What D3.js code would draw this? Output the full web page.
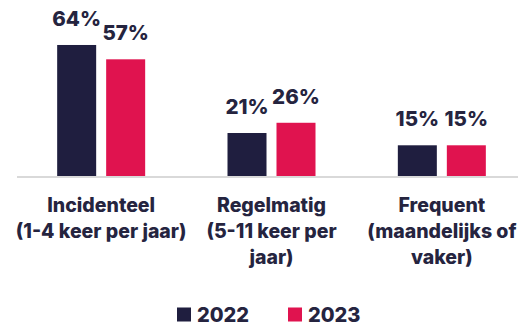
<!DOCTYPE html>
<html>
<head>
<meta charset="utf-8">
<script src="https://cdn.jsdelivr.net/npm/d3@7"></script>
<style>
  html, body { margin: 0; padding: 0; background: #ffffff; }
  svg { display: block; }
  text { font-family: Inter, "Noto Sans", sans-serif; font-weight: 800; }
</style>
</head>
<body>
<script>
// Frequency categories (label lines) and yearly shares in percent
const categories = ["Incidenteel", "Regelmatig", "Frequent"];
const categoryLines = [
  ["Incidenteel", "(1-4 keer per jaar)"],
  ["Regelmatig", "(5-11 keer per", "jaar)"],
  ["Frequent", "(maandelijks of", "vaker)"]
];
const seriesNames = ["2022", "2023"];
const values2022 = [64, 21, 15];
const values2023 = [57, 26, 15];
const seriesColors = ["#1f1e3f", "#e0134f"];

const W = 518, H = 324;
const textColor = "#25243f";

const svg = d3.select("body").append("svg")
  .attr("width", W).attr("height", H);

const baseY = 176;
const x0 = d3.scaleBand().domain(categories).range([16, 527]).padding(0);
const x1 = d3.scaleBand().domain(seriesNames).range([-44, 44]).paddingInner(0.204).paddingOuter(0);
const y = d3.scaleLinear().domain([0, 70]).range([baseY, baseY - 143.3]);

const rows = categories.map((c, i) => ({
  category: c,
  values: [
    { series: "2022", value: values2022[i] },
    { series: "2023", value: values2023[i] }
  ]
}));
const color = d3.scaleOrdinal().domain(seriesNames).range(seriesColors);

// Baseline
svg.append("line")
  .attr("x1", 17).attr("x2", W)
  .attr("y1", baseY + 1).attr("y2", baseY + 1)
  .attr("stroke", "#d9d9d9").attr("stroke-width", 2);

const groups = svg.append("g").selectAll("g")
  .data(rows).join("g")
  .attr("transform", d => `translate(${x0(d.category) + x0.bandwidth() / 2},0)`);

groups.selectAll("rect")
  .data(d => d.values).join("rect")
  .attr("x", d => x1(d.series))
  .attr("width", x1.bandwidth())
  .attr("y", d => y(d.value))
  .attr("height", d => baseY - y(d.value))
  .attr("fill", d => color(d.series));

// Value labels above each bar
groups.selectAll("text.val")
  .data(d => d.values).join("text")
  .attr("class", "val")
  .attr("x", d => x1(d.series) + x1.bandwidth() / 2)
  .attr("y", d => y(d.value) - 19)
  .attr("text-anchor", "middle")
  .attr("font-size", 20.5)
  .attr("fill", textColor)
  .text(d => d.value + "%");

// Category labels (multi-line)
const catLabels = svg.append("g").selectAll("text")
  .data(categories).join("text")
  .attr("text-anchor", "middle")
  .attr("font-size", 19.5)
  .attr("fill", textColor)
  .attr("transform", d => `translate(${x0(d) + x0.bandwidth() / 2},${212})`);

catLabels.selectAll("tspan")
  .data((d, i) => categoryLines[i]).join("tspan")
  .attr("x", 0)
  .attr("y", (d, i) => i * 25.8)
  .text(d => d);

// Legend
const legendX = [177, 288];
const legend = svg.append("g").selectAll("g")
  .data(seriesNames).join("g")
  .attr("transform", (d, i) => `translate(${legendX[i]},${307.5})`);

legend.append("rect")
  .attr("width", 14).attr("height", 14)
  .attr("fill", d => color(d));

legend.append("text")
  .attr("x", 20).attr("y", 14.6)
  .attr("font-size", 20)
  .attr("fill", textColor)
  .text(d => d);
</script>
</body>
</html>
